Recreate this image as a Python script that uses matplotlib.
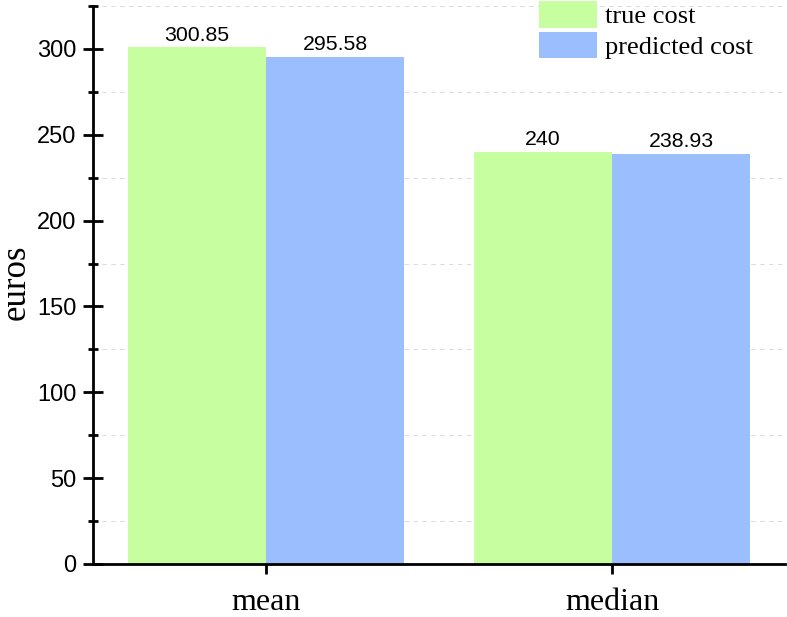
import matplotlib.pyplot as plt
import numpy as np

groups = ['mean', 'median']
true_cost = [300.85, 240]
pred_cost = [295.58, 238.93]
true_labels = ['300.85', '240']
pred_labels = ['295.58', '238.93']

green = '#c6fea0'
blue = '#9bbffe'

fig = plt.figure(figsize=(7.87, 6.17), dpi=100)
ax = fig.add_axes([93/787, (617-564)/617, (785-93)/787, (564-6)/617])

x = np.arange(len(groups))
w = 0.4
b1 = ax.bar(x - w/2, true_cost, w, color=green, label='true cost', zorder=2)
b2 = ax.bar(x + w/2, pred_cost, w, color=blue, label='predicted cost', zorder=2)

for bars, labs in ((b1, true_labels), (b2, pred_labels)):
    for r, t in zip(bars, labs):
        ax.text(r.get_x() + r.get_width()/2, r.get_height() + 1.5, t,
                ha='center', va='bottom', fontsize=15.3, family='Liberation Sans')

ax.set_xlim(-0.5, 1.5)
ax.set_ylim(0, 325)
ax.set_yticks(np.arange(0, 301, 50))
ax.set_yticks(np.arange(25, 326, 50), minor=True)
ax.set_xticks(x)
ax.set_xticklabels(groups, family='Liberation Serif', fontsize=23)
for lab in ax.get_yticklabels():
    lab.set_family('Liberation Sans')
    lab.set_fontsize(17)

ax.grid(axis='y', which='minor', linestyle=(0, (4, 4)), color='#dddddd', linewidth=0.8, zorder=0)
ax.spines['top'].set_visible(False)
ax.spines['right'].set_visible(False)
ax.spines['left'].set_linewidth(2)
ax.spines['bottom'].set_linewidth(2)
ax.tick_params(axis='y', which='major', direction='inout', length=14, width=2, pad=5)
ax.tick_params(axis='y', which='minor', direction='inout', length=7, width=2)
ax.tick_params(axis='x', which='major', direction='out', length=7, width=2, pad=10)
ax.set_ylabel('euros', family='Liberation Serif', fontsize=25)
ax.yaxis.set_label_coords(-0.087, 0.505)

ax.legend(loc='upper right', bbox_to_anchor=(0.958, 1.0), bbox_transform=fig.transFigure,
          frameon=False, prop={'family': 'Liberation Serif', 'size': 19},
          handlelength=2.2, handleheight=1.15, labelspacing=0.12, handletextpad=0.28,
          borderaxespad=0.0, borderpad=0.05)

fig.savefig('out.png', dpi=100)
